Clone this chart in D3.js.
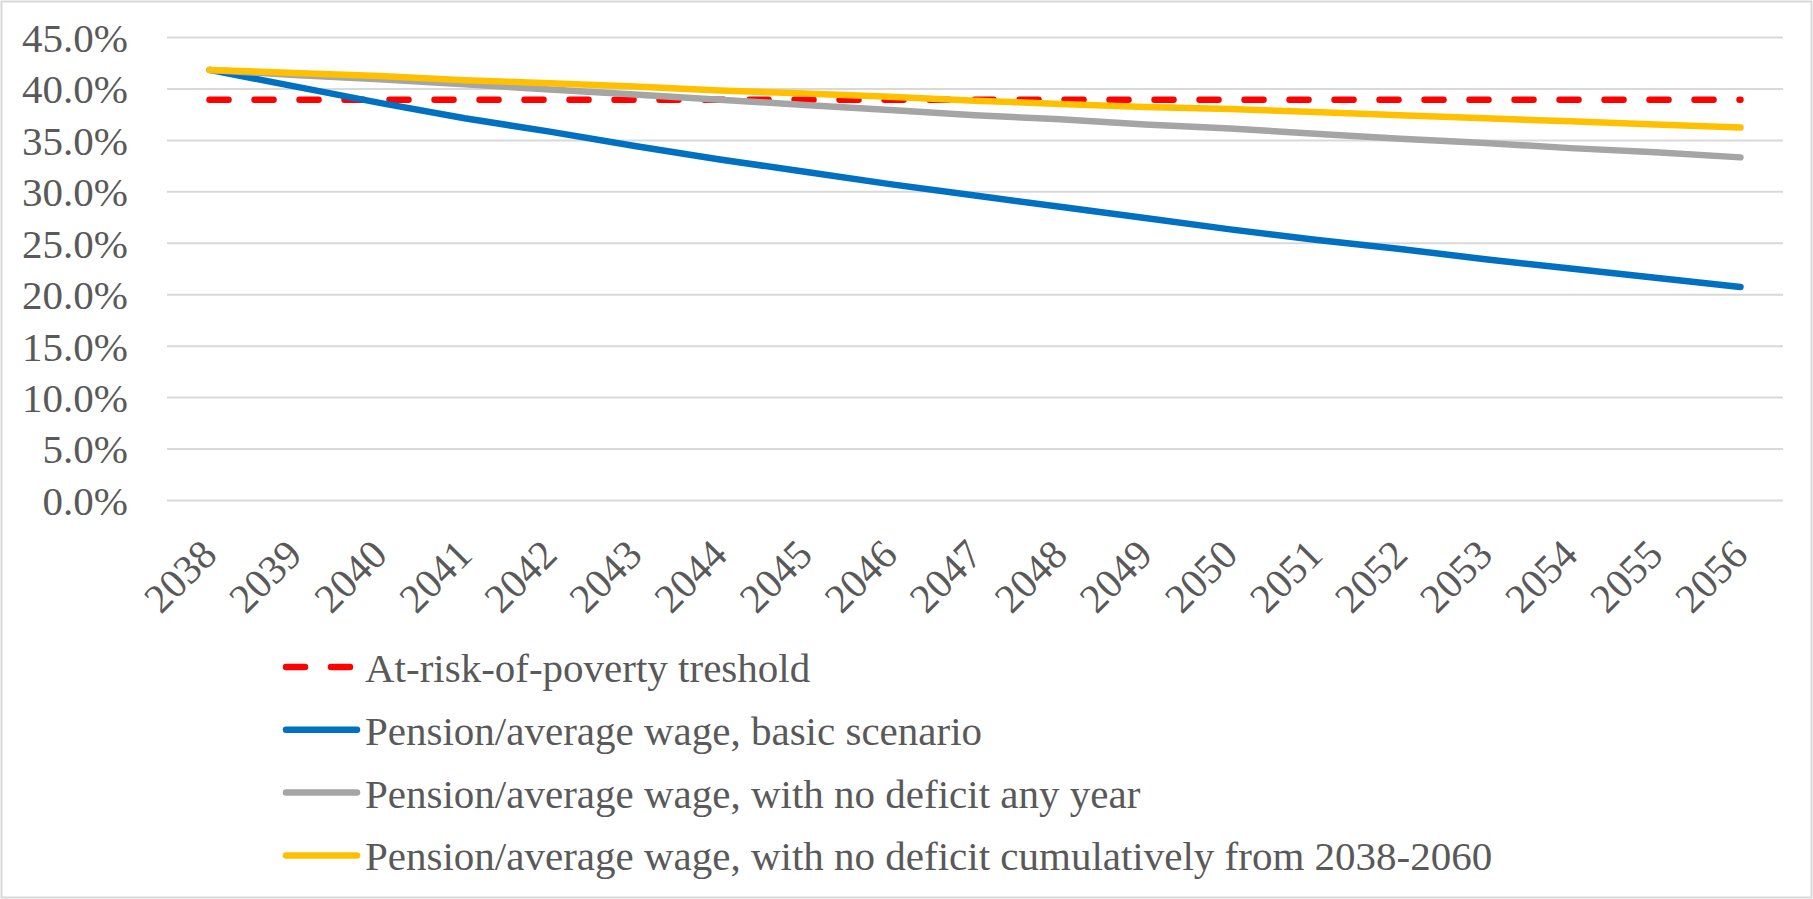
<!DOCTYPE html>
<html>
<head>
<meta charset="utf-8">
<script src="https://cdn.jsdelivr.net/npm/d3@7"></script>
<style>
  body { margin: 0; background: #fff; }
  svg { display: block; }
  svg text { font-family: "Liberation Serif", "Times New Roman", Times, "DejaVu Serif", serif; fill: #595959; }
</style>
</head>
<body>
<svg></svg>
<script>
let years = ["2038","2039","2040","2041","2042","2043","2044","2045","2046","2047",
             "2048","2049","2050","2051","2052","2053","2054","2055","2056"]
let povertyLine = [0.389,0.389,0.389,0.389,0.389,0.389,0.389,0.389,0.389,0.389,
                   0.389,0.389,0.389,0.389,0.389,0.389,0.389,0.389,0.389]
let basicScenario = [0.418,0.402,0.386,0.371,0.358,0.344,0.331,0.319,0.307,0.296,
                     0.285,0.274,0.263,0.253,0.244,0.234,0.225,0.216,0.207]
let noDeficitYear = [0.418,0.413,0.409,0.404,0.399,0.394,0.389,0.384,0.379,0.374,
                     0.370,0.365,0.361,0.356,0.351,0.347,0.342,0.338,0.333]
let noDeficitCumul = [0.418,0.415,0.412,0.408,0.405,0.402,0.398,0.395,0.392,0.388,
                      0.385,0.382,0.380,0.377,0.374,0.371,0.368,0.365,0.362]
let yTicks = [0,0.05,0.1,0.15,0.2,0.25,0.3,0.35,0.4,0.45]

let series = [
  {name: "At-risk-of-poverty treshold", values: povertyLine, color: "#FF0000", dash: "19,26"},
  {name: "Pension/average wage, basic scenario", values: basicScenario, color: "#0070C0"},
  {name: "Pension/average wage, with no deficit any year", values: noDeficitYear, color: "#A5A5A5"},
  {name: "Pension/average wage, with no deficit cumulatively from 2038-2060", values: noDeficitCumul, color: "#FFC000"}
]

let width = 1813
let height = 899
let plotLeft = 167
let plotRight = 1783
let plotTop = 37
let plotBottom = 500

let svg = d3.select("svg").attr("width", width).attr("height", height)

// chart border
svg.append("rect")
   .attr("x", 1.5).attr("y", 1.5)
   .attr("width", width - 3).attr("height", height - 3)
   .attr("fill", "#fff")
   .attr("stroke", "#D9D9D9")
   .attr("stroke-width", 2)

let xScale = d3.scalePoint().domain(years).range([plotLeft, plotRight]).padding(0.5)
let yScale = d3.scaleLinear().domain([0, 0.45]).range([plotBottom, plotTop])

// gridlines
let grid = svg.append("g")
   .attr("transform", "translate(" + plotLeft + ",0)")
   .call(d3.axisLeft(yScale).tickValues(yTicks).tickSize(-(plotRight - plotLeft)).tickFormat(""))
grid.select(".domain").remove()
grid.selectAll("line").attr("stroke", "#D9D9D9").attr("stroke-width", 2)

// y axis labels
let yAxis = svg.append("g")
   .attr("transform", "translate(128,0)")
   .call(d3.axisLeft(yScale).tickValues(yTicks).tickSize(0).tickPadding(0).tickFormat(d3.format(".1%")))
yAxis.select(".domain").remove()
yAxis.attr("font-family", null)
yAxis.selectAll("text")
     .attr("font-size", 41)
     .attr("fill", "#595959")
     .attr("dy", "0.35em")

// x axis labels
let xAxis = svg.append("g")
   .attr("transform", "translate(0," + plotBottom + ")")
   .call(d3.axisBottom(xScale).tickSize(0))
xAxis.select(".domain").remove()
xAxis.attr("font-family", null)
xAxis.selectAll("text")
     .attr("font-size", 41)
     .attr("fill", "#595959")
     .attr("text-anchor", "end")
     .attr("y", 0).attr("dy", 0)
     .attr("transform", "translate(9,57) rotate(-45)")

// lines
let line = d3.line()
   .x((d, i) => xScale(years[i]))
   .y((d) => yScale(d))

svg.append("g").selectAll("path")
   .data(series)
   .enter()
   .append("path")
   .attr("d", (s) => line(s.values))
   .attr("fill", "none")
   .attr("stroke", (s) => s.color)
   .attr("stroke-width", 6.5)
   .attr("stroke-linecap", "round")
   .attr("stroke-linejoin", "round")
   .attr("stroke-dasharray", (s) => s.dash || null)

// legend
let legend = svg.append("g").selectAll("g")
   .data(series)
   .enter()
   .append("g")
   .attr("transform", (s, i) => "translate(286," + (667 + i * 62.8) + ")")

legend.append("line")
   .attr("x1", 0).attr("x2", 71)
   .attr("stroke", (s) => s.color)
   .attr("stroke-width", 6.5)
   .attr("stroke-linecap", "round")
   .attr("stroke-dasharray", (s) => s.dash || null)

legend.append("text")
   .attr("x", 79)
   .attr("y", 15)
   .attr("font-size", 41)
   .text((s) => s.name)
</script>
</body>
</html>
